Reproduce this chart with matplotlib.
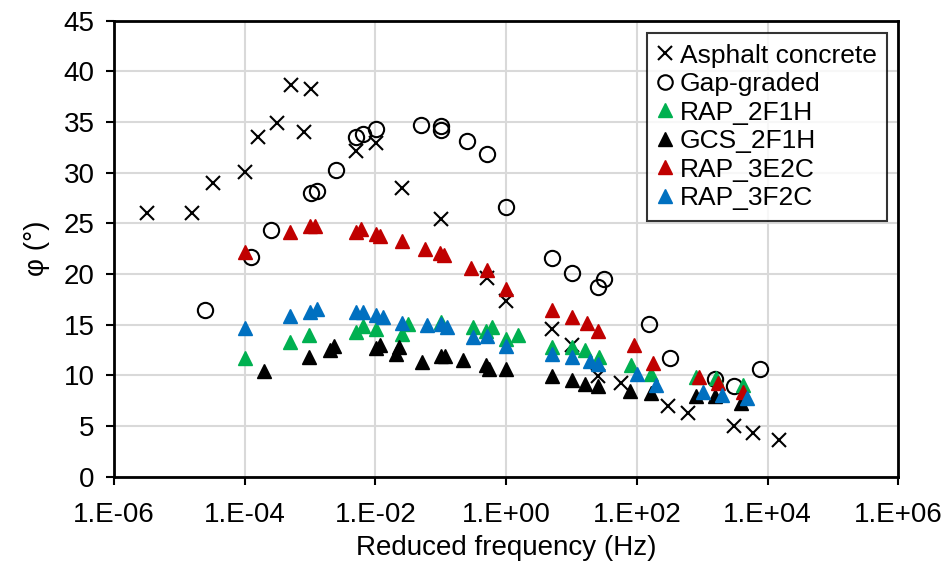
import numpy as np
import matplotlib
matplotlib.use("Agg")
import matplotlib.pyplot as plt
from matplotlib.ticker import FixedLocator, NullLocator

plt.rcParams['font.family'] = ['Liberation Sans', 'DejaVu Sans']

# log10 of reduced frequency and phase angle
ac_logf = [-5.49, -4.80, -4.49, -4.00, -3.79, -3.50, -3.29, -3.09, -2.99, -2.30, -1.99,
           -1.59, -1.00, -0.30, 0.00, 0.70, 1.01, 1.41, 1.76, 2.48, 2.78, 3.48, 3.78, 4.17]
ac_phi = [26.0, 26.0, 29.0, 30.1, 33.5, 34.9, 38.7, 34.0, 38.3, 32.1, 32.9,
          28.5, 25.4, 19.6, 17.3, 14.55, 13.0, 9.9, 9.2, 7.0, 6.3, 5.0, 4.3, 3.6]

gg_logf = [-4.60, -3.90, -3.60, -2.99, -2.89, -2.60, -2.30, -2.19, -1.99, -1.30, -1.00, -1.00,
           -0.60, -0.30, 0.00, 0.70, 1.01, 1.40, 1.50, 2.18, 2.50, 3.20, 3.49, 3.89]
gg_phi = [16.45, 21.65, 24.35, 28.0, 28.2, 30.3, 33.5, 33.8, 34.3, 34.7, 34.6, 34.2,
          33.1, 31.85, 26.65, 21.6, 20.1, 18.75, 19.5, 15.1, 11.7, 9.65, 8.96, 10.6]

r2f1h_logf = [-4.00, -3.30, -3.01, -2.30, -2.19, -1.99, -1.59, -1.50, -1.00, -0.51, -0.31, -0.21,
              0.00, 0.18, 0.70, 1.01, 1.21, 1.42, 1.91, 2.21, 2.91, 3.21, 3.62]
r2f1h_phi = [11.75, 13.3, 14.0, 14.3, 14.9, 14.6, 14.1, 15.05, 15.3, 14.75, 14.4, 14.75,
             13.55, 14.0, 12.8, 12.8, 12.45, 11.85, 11.0, 10.15, 9.8, 9.7, 9.0]

gcs_logf = [-3.70, -3.01, -2.70, -2.64, -1.99, -1.93, -1.69, -1.64, -1.29, -1.00, -0.94, -0.66,
            -0.31, -0.26, 0.00, 0.70, 1.01, 1.21, 1.41, 1.90, 2.21, 2.90, 3.20, 3.60]
gcs_phi = [10.4, 11.85, 12.45, 12.9, 12.7, 13.0, 12.1, 12.8, 11.35, 11.9, 11.9, 11.5,
           11.0, 10.6, 10.6, 9.9, 9.55, 9.15, 8.9, 8.45, 8.3, 8.0, 8.0, 7.3]

r3e2c_logf = [-4.00, -3.30, -3.00, -2.92, -2.30, -2.22, -1.99, -1.93, -1.59, -1.24, -1.01, -0.95,
              -0.54, -0.30, 0.00, 0.70, 1.01, 1.24, 1.41, 1.95, 2.25, 2.95, 3.24, 3.63]
r3e2c_phi = [22.2, 24.1, 24.75, 24.7, 24.1, 24.4, 23.95, 23.7, 23.3, 22.45, 22.1, 21.9,
             20.6, 20.35, 18.5, 16.45, 15.75, 15.15, 14.4, 13.0, 11.25, 9.8, 9.2, 8.4]

r3f2c_logf = [-4.00, -3.30, -3.00, -2.90, -2.30, -2.19, -1.99, -1.89, -1.59, -1.21, -1.00, -0.91,
              -0.50, -0.30, 0.00, 0.70, 1.01, 1.29, 1.41, 2.00, 2.30, 3.01, 3.30, 3.69]
r3f2c_phi = [14.7, 15.9, 16.2, 16.5, 16.2, 16.2, 15.95, 15.8, 15.15, 15.0, 15.05, 14.75,
             13.75, 13.9, 12.9, 12.1, 11.8, 11.45, 11.1, 10.15, 9.05, 8.4, 8.05, 7.75]

x_ticks = [1e-6, 1e-4, 1e-2, 1e0, 1e2, 1e4, 1e6]
x_labels = ['1.E-06', '1.E-04', '1.E-02', '1.E+00', '1.E+02', '1.E+04', '1.E+06']
y_ticks = [0, 5, 10, 15, 20, 25, 30, 35, 40, 45]

fig = plt.figure(figsize=(9.49, 5.67), dpi=100)
ax = fig.add_axes([0.1201, 0.1594, 0.8265, 0.8041])

def f(logs):
    return 10.0 ** np.array(logs)

ax.plot(f(ac_logf), ac_phi, 'x', color='black', ms=10, mew=1.5, label='Asphalt concrete', zorder=3)
ax.plot(f(gg_logf), gg_phi, 'o', mfc='none', mec='black', ms=11, mew=1.5, label='Gap-graded', zorder=3)
ax.plot(f(r2f1h_logf), r2f1h_phi, '^', color='#00B050', ms=10.5, label='RAP_2F1H', zorder=3)
ax.plot(f(gcs_logf), gcs_phi, '^', color='black', ms=10.5, label='GCS_2F1H', zorder=3)
ax.plot(f(r3e2c_logf), r3e2c_phi, '^', color='#C00000', ms=10.5, label='RAP_3E2C', zorder=3)
ax.plot(f(r3f2c_logf), r3f2c_phi, '^', color='#0070C0', ms=10.5, label='RAP_3F2C', zorder=3)

ax.set_xscale('log')
ax.set_xlim(1e-6, 1e6)
ax.set_ylim(0, 45)
ax.xaxis.set_major_locator(FixedLocator(x_ticks))
ax.xaxis.set_minor_locator(NullLocator())
ax.set_xticklabels(x_labels)
ax.set_yticks(y_ticks)
ax.tick_params(axis='both', labelsize=20, direction='out', length=6, width=1.5, color='black')
ax.tick_params(axis='x', pad=12)
ax.tick_params(axis='y', pad=8)

ax.grid(True, color='#d9d9d9', lw=1.5, zorder=0)
ax.set_axisbelow(True)
for s in ax.spines.values():
    s.set_linewidth(2)
    s.set_color('black')

ax.set_xlabel('Reduced frequency (Hz)', fontsize=20, labelpad=5)
ax.set_ylabel('φ (°)', fontsize=20, labelpad=10)

leg = ax.legend(loc='upper right', bbox_to_anchor=(0.9856, 0.973), fontsize=19, frameon=True,
                fancybox=False, edgecolor='black', handlelength=0.6, handletextpad=0.25,
                labelspacing=0.17, borderpad=0.4, markerscale=0.95, borderaxespad=0)
leg.get_frame().set_linewidth(1.5)

fig.savefig('out.png', dpi=100)
